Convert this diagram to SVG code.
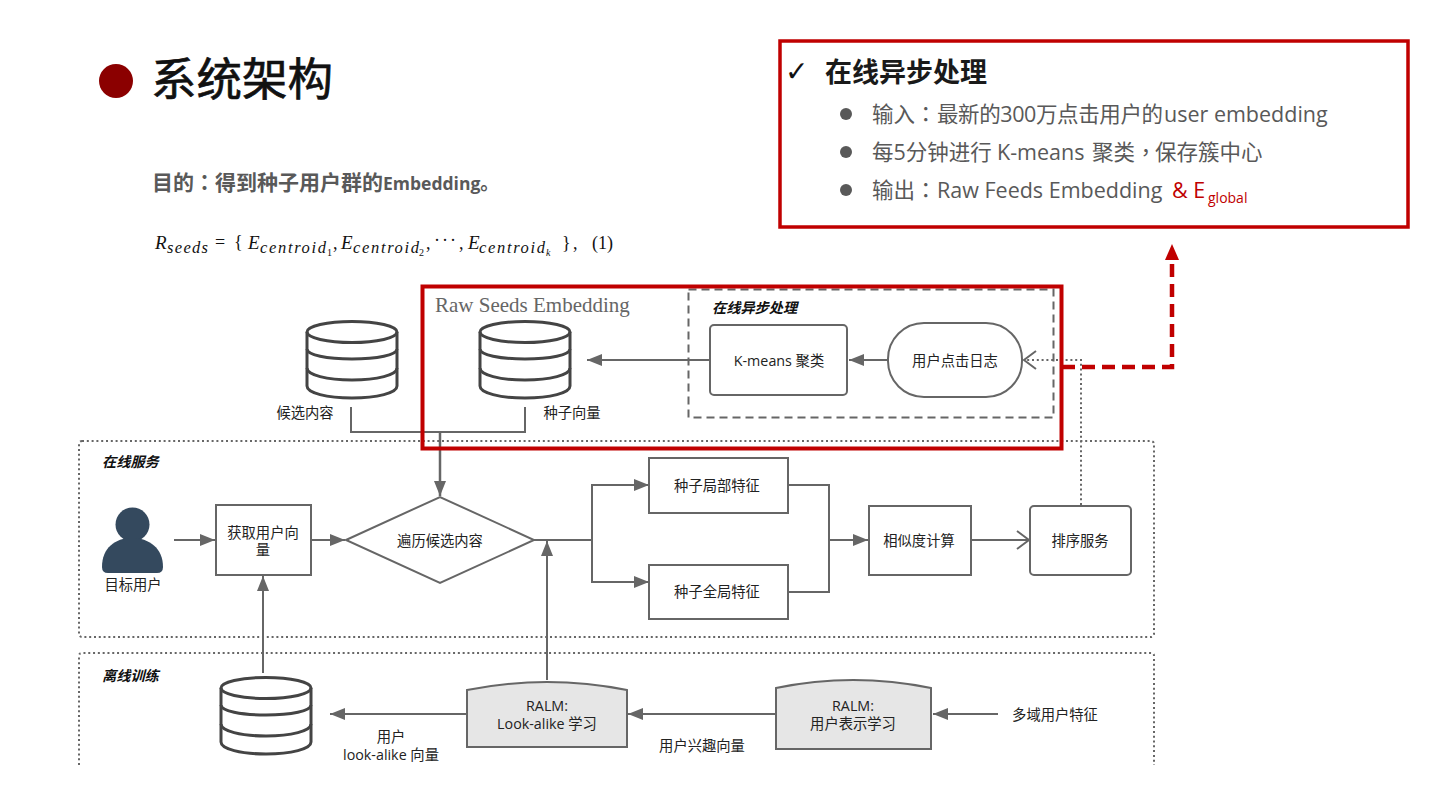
<svg xmlns="http://www.w3.org/2000/svg" width="1440" height="810" viewBox="0 0 1440 810">
<style>
text{font-family:"Open Sans","Noto Sans CJK SC",sans-serif;fill:#222}
.c{font-size:14.300px;text-anchor:middle}
.t{font-size:14.200px;font-weight:700;font-style:italic;fill:#111}
.n{fill:#fff;stroke:#666;stroke-width:2}
.g{fill:#e6e6e6;stroke:#666;stroke-width:2}
.l{fill:none;stroke:#666;stroke-width:2}
.d{fill:none;stroke:#666;stroke-width:2;stroke-dasharray:2 2.800}
.db{fill:none;stroke:#444;stroke-width:3}
.bl{font-size:21.500px;fill:#595959}
.p{font-family:"Noto Sans CJK TC",sans-serif}
.m{font-family:"Liberation Serif",serif;font-style:italic;fill:#111;font-size:19px}
.mu{font-family:"Liberation Serif",serif;fill:#111;font-size:18px}
.ms{font-family:"Liberation Serif",serif;font-style:italic;fill:#111;font-size:16.500px}
.mn{font-family:"Liberation Serif",serif;fill:#111;font-size:10px}
.r{fill:#c00000}
</style>
<defs>
<marker id="a" markerUnits="userSpaceOnUse" markerWidth="16" markerHeight="12" refX="15" refY="6" orient="auto"><path d="M0 0L15 6L0 12Z" fill="#666"/></marker>
<marker id="o" markerUnits="userSpaceOnUse" markerWidth="16" markerHeight="20" refX="14" refY="10" orient="auto"><path d="M2 1L14 10L2 19" fill="none" stroke="#666" stroke-width="2"/></marker>
<g id="cyl"><path class="db" d="M0 11V65C0 72 20 77 45 77S90 72 90 65V11"/><ellipse class="db" cx="45" cy="11" rx="45" ry="10.500"/><path class="db" d="M0 28C0 34 20 38 45 38S90 34 90 28M0 47C0 54 20 59 45 59S90 54 90 47"/></g>
</defs>
<rect width="1440" height="810" fill="#fff"/>
<g id="title"><circle cx="116" cy="81" r="17" fill="#8b0000"/><text x="151" y="96" font-size="45.500" stroke="#111" stroke-width="0.700" style="fill:#111">系统架构</text></g>
<g id="goal"><text x="152" y="190" font-size="21" font-weight="700" style="fill:#595959">目的<tspan class="p">：</tspan>得到种子用户群的<tspan x="383" font-size="17.500">Embedding</tspan><tspan font-size="19">。</tspan></text></g>
<g id="formula">
<text x="155" y="249" class="m">R</text><text x="167" y="253" class="ms" textLength="41">seeds</text>
<text x="215" y="248" class="mu">=</text><text x="234" y="248" class="mu">{</text>
<text x="248" y="249" class="m">E</text><text x="260" y="253" class="ms" textLength="66">centroid</text><text x="327" y="256" class="mn">1</text><text x="333" y="249" class="mu">,</text>
<text x="341" y="249" class="m">E</text><text x="353" y="253" class="ms" textLength="66">centroid</text><text x="419" y="256" class="mn">2</text><text x="426" y="249" class="mu">,</text><text x="434" y="246" class="mu" textLength="22">· · ·</text><text x="459" y="249" class="mu">,</text>
<text x="468" y="249" class="m">E</text><text x="479" y="253" class="ms" textLength="66">centroid</text><text x="546" y="256" class="mn" style="font-style:italic">k</text>
<text x="562" y="249" class="mu">}</text><text x="573" y="249" class="mu">,</text><text x="592" y="249" class="mu">(1)</text>
</g>
<g id="zones">
<rect class="d" x="79" y="441" width="1075" height="196" rx="3"/>
<path class="d" d="M79 765V656Q79 653 82 653H1151Q1154 653 1154 656V765"/>
<text x="102" y="467" class="t">在线服务</text><text x="102" y="681" class="t">离线训练</text>
</g>
<g id="connectors">
<path class="l" d="M351 407V432H525V407"/>
<path class="l" style="stroke-width:2.500" d="M440 432V496" marker-end="url(#a)"/>
<path class="l" d="M710 360H587" marker-end="url(#a)"/>
<path class="l" d="M888 360H849" marker-end="url(#a)"/>
<path class="d" d="M1081 505V360H1024" marker-end="url(#o)"/>
<path class="l" d="M174 540H215" marker-end="url(#a)"/>
<path class="l" d="M311 540H345" marker-end="url(#a)"/>
<path class="l" d="M263 673V576" marker-end="url(#a)"/>
<path class="l" d="M547 680V541" marker-end="url(#a)"/>
<path class="l" d="M534 540H592V485H649" marker-end="url(#a)"/>
<path class="l" d="M592 540V582H649" marker-end="url(#a)"/>
<path class="l" d="M788 485H829V592H788"/>
<path class="l" d="M829 540H868" marker-end="url(#a)"/>
<path class="l" d="M971 540H1029" marker-end="url(#o)"/>
<path class="l" d="M467 714H330" marker-end="url(#a)"/>
<path class="l" d="M776 714H628" marker-end="url(#a)"/>
<path class="l" d="M998 714H933" marker-end="url(#a)"/>
</g>
<g id="async-group"><rect x="688.500" y="289.500" width="365" height="128" fill="none" stroke="#666" stroke-width="2" stroke-dasharray="8 5"/><text x="712" y="313" class="t">在线异步处理</text></g>
<g id="kmeans"><rect class="n" x="710" y="325" width="137" height="70" rx="4"/><text class="c" x="779" y="366">K-means 聚类</text></g>
<g id="clicklog"><rect class="n" x="888" y="323" width="134" height="74" rx="36"/><text class="c" x="955" y="366">用户点击日志</text></g>
<g id="candidates"><use href="#cyl" x="307" y="321"/><text class="c" x="305" y="418">候选内容</text></g>
<g id="seedvec"><use href="#cyl" x="480" y="321"/><text class="c" x="572" y="418">种子向量</text></g>
<g id="user"><circle cx="132.500" cy="524.500" r="17" fill="#34495e"/><path d="M102 567C102 548 115 538 132 538S163 548 163 567Q163 573 157 573H108Q102 573 102 567Z" fill="#34495e"/><text class="c" x="133" y="590">目标用户</text></g>
<g id="getuser"><rect class="n" x="216" y="505" width="95" height="70"/><text class="c" x="263" y="538">获取用户向</text><text class="c" x="263" y="555">量</text></g>
<g id="iterate"><path class="n" d="M346 540L440 497L534 540L440 583Z"/><text class="c" x="440" y="546">遍历候选内容</text></g>
<g id="seedlocal"><rect class="n" x="649" y="458" width="139" height="55"/><text class="c" x="717" y="491">种子局部特征</text></g>
<g id="seedglobal"><rect class="n" x="649" y="565" width="139" height="54"/><text class="c" x="717" y="597">种子全局特征</text></g>
<g id="similarity"><rect class="n" x="869" y="506" width="102" height="69"/><text class="c" x="919" y="546">相似度计算</text></g>
<g id="rank"><rect class="n" x="1030" y="506" width="101" height="69" rx="4"/><text class="c" x="1080" y="546">排序服务</text></g>
<g id="uservec"><use href="#cyl" x="221" y="677"/></g>
<g id="ralm1"><path class="g" d="M467 690Q547 674 627 690V747H467Z"/><text class="c" x="547" y="711">RALM:</text><text class="c" x="547" y="729">Look-alike 学习</text></g>
<g id="ralm2"><path class="g" d="M776 688Q853 672 931 688V749H776Z"/><text class="c" x="853" y="711">RALM:</text><text class="c" x="853" y="729">用户表示学习</text></g>
<g id="labels"><text class="c" x="391" y="742">用户</text><text class="c" x="391" y="760">look-alike 向量</text><text class="c" x="702" y="751">用户兴趣向量</text><text class="c" x="1055" y="720">多域用户特征</text></g>
<g id="seeds-highlight"><rect x="422.500" y="286.500" width="639" height="162" fill="none" stroke="#c00000" stroke-width="4"/><text x="435" y="312" font-size="21" style="font-family:'Liberation Serif',serif;fill:#666">Raw Seeds Embedding</text></g>
<g id="callout-link"><path d="M1062 367H1172V258" fill="none" stroke="#c00000" stroke-width="4.500" stroke-dasharray="13 7"/><path class="r" d="M1172 244L1179 260H1165Z"/></g>
<g id="callout"><rect x="780" y="41" width="628" height="186" fill="#fff" stroke="#c00000" stroke-width="3.500"/>
<text x="785" y="81" font-size="28" style="font-family:'DejaVu Sans',sans-serif;fill:#111">✓</text>
<text x="825" y="82" font-size="27" font-weight="700" style="fill:#1a1a1a">在线异步处理</text>
<circle cx="846" cy="114" r="6" fill="#595959"/><circle cx="846" cy="152" r="6" fill="#595959"/><circle cx="846" cy="190" r="6" fill="#595959"/>
<text x="872" y="122" class="bl">输入<tspan class="p">：</tspan><tspan x="937" letter-spacing="-0.400">最新的300万点击用户的</tspan><tspan x="1164">user embedding</tspan></text>
<text x="872" y="160" class="bl">每5分钟进行<tspan x="997">K-means</tspan><tspan x="1092">聚类</tspan><tspan class="p" x="1135">，</tspan><tspan x="1155">保存簇中心</tspan></text>
<text x="872" y="198" class="bl">输出<tspan class="p">：</tspan><tspan x="937">Raw Feeds Embedding</tspan><tspan x="1172" style="fill:#c00000">&amp; E</tspan><tspan x="1208" font-size="14" dy="5" style="fill:#c00000">global</tspan></text>
</g>
</svg>
